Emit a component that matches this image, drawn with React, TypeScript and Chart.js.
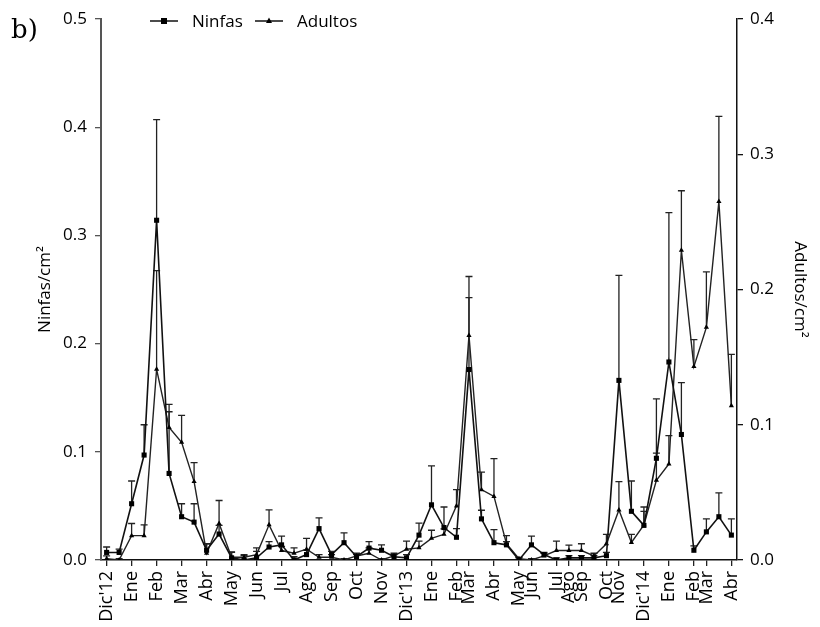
import React, { useEffect, useRef } from 'react';
import { Chart, registerables } from 'chart.js';
Chart.register(...registerables);

// Sampling index (fortnightly samples, Dec 2012 - Apr 2015)
const sampleIndex = Array.from({ length: 51 }, (_, i) => i);

const ninfas = [
  0.007, 0.007, 0.052, 0.097, 0.314, 0.080, 0.040, 0.035, 0.009, 0.024,
  0.002, 0.000, 0.002, 0.012, 0.014, 0.000, 0.005, 0.029, 0.005, 0.016,
  0.003, 0.011, 0.009, 0.003, 0.002, 0.023, 0.051, 0.030, 0.021, 0.176,
  0.038, 0.016, 0.014, 0.000, 0.014, 0.005, 0.000, 0.002, 0.002, 0.002,
  0.004, 0.166, 0.045, 0.032, 0.094, 0.183, 0.116, 0.009, 0.026, 0.040,
  0.023,
];
const ninfasErr = [
  0.005, 0.003, 0.021, 0.028, 0.093, 0.057, 0.012, 0.017, 0.006, 0.008,
  0.005, 0.004, 0.006, 0.005, 0.008, 0.003, 0.004, 0.010, 0.003, 0.009,
  0.002, 0.006, 0.005, 0.002, 0.003, 0.011, 0.036, 0.019, 0.008, 0.086,
  0.008, 0.012, 0.003, 0.002, 0.008, 0.002, 0.002, 0.002, 0.002, 0.002,
  0.003, 0.097, 0.028, 0.017, 0.055, 0.138, 0.048, 0.004, 0.012, 0.022,
  0.015,
];
const adultos = [
  0.001, 0.000, 0.018, 0.018, 0.141, 0.098, 0.087, 0.058, 0.005, 0.027,
  0.002, 0.002, 0.004, 0.026, 0.007, 0.005, 0.008, 0.002, 0.002, 0.000,
  0.003, 0.005, 0.000, 0.003, 0.008, 0.009, 0.016, 0.019, 0.040, 0.166,
  0.052, 0.047, 0.012, 0.001, 0.000, 0.003, 0.007, 0.007, 0.007, 0.003,
  0.012, 0.037, 0.013, 0.026, 0.059, 0.071, 0.229, 0.143, 0.172, 0.265,
  0.114,
];
const adultosErr = [
  0.002, 0.001, 0.009, 0.008, 0.073, 0.017, 0.020, 0.014, 0.007, 0.017,
  0.004, 0.002, 0.005, 0.011, 0.003, 0.004, 0.008, 0.002, 0.002, 0.001,
  0.002, 0.004, 0.001, 0.002, 0.006, 0.005, 0.006, 0.004, 0.012, 0.028,
  0.013, 0.028, 0.006, 0.001, 0.001, 0.002, 0.007, 0.004, 0.005, 0.002,
  0.007, 0.021, 0.006, 0.010, 0.020, 0.021, 0.044, 0.020, 0.041, 0.063,
  0.038,
];

const tickIndex = [0, 2, 4, 6, 8, 10, 12, 14, 16, 18, 20, 22, 24, 26, 28, 29, 31, 33, 34, 36, 37, 38, 40, 41, 43, 45, 47, 48, 50];
const tickLabels = [
  "Dic'12", 'Ene', 'Feb', 'Mar', 'Abr', 'May', 'Jun', 'Jul', 'Ago', 'Sep', 'Oct', 'Nov',
  "Dic'13", 'Ene', 'Feb', 'Mar', 'Abr', 'May', 'Jun', 'Jul', 'Ago', 'Sep', 'Oct', 'Nov',
  "Dic'14", 'Ene', 'Feb', 'Mar', 'Abr',
];

const seriesNames = ['Ninfas', 'Adultos'];
const leftTitle = 'Ninfas/cm²';
const rightTitle = 'Adultos/cm²';
const panelLabel = 'b)';

const FONT = "'Open Sans', sans-serif";

const errorBarPlugin = {
  id: 'errorBars',
  beforeDatasetsDraw(chart: any) {
    const ctx = chart.ctx;
    chart.data.datasets.forEach((ds: any, di: number) => {
      const meta = chart.getDatasetMeta(di);
      const yScale = chart.scales[ds.yAxisID];
      ctx.save();
      ctx.strokeStyle = '#222';
      ctx.lineWidth = 1.3;
      meta.data.forEach((pt: any, i: number) => {
        const e = ds.errors[i];
        if (!e) return;
        const yTop = yScale.getPixelForValue(ds.data[i].y + e);
        ctx.beginPath();
        ctx.moveTo(pt.x, pt.y);
        ctx.lineTo(pt.x, yTop);
        ctx.moveTo(pt.x - 3.5, yTop);
        ctx.lineTo(pt.x + 3.5, yTop);
        ctx.stroke();
      });
      ctx.restore();
    });
  },
};

const decorPlugin = {
  id: 'decor',
  afterDraw(chart: any) {
    const ctx = chart.ctx;
    ctx.save();
    // panel label
    ctx.fillStyle = '#000';
    ctx.font = "26px 'DejaVu Serif', serif";
    ctx.textBaseline = 'alphabetic';
    ctx.textAlign = 'left';
    ctx.fillText(panelLabel, 11, 38);
    // legend
    const y = 21;
    const items = [
      { x0: 150, name: seriesNames[0], style: 'rect' },
      { x0: 255, name: seriesNames[1], style: 'tri' },
    ];
    items.forEach((it) => {
      ctx.strokeStyle = '#111';
      ctx.lineWidth = 1.5;
      ctx.beginPath();
      ctx.moveTo(it.x0, y);
      ctx.lineTo(it.x0 + 28, y);
      ctx.stroke();
      ctx.fillStyle = '#000';
      const cx = it.x0 + 14;
      if (it.style === 'rect') {
        ctx.fillRect(cx - 3, y - 3, 6, 6);
      } else {
        ctx.beginPath();
        ctx.moveTo(cx, y - 3.5);
        ctx.lineTo(cx + 3, y + 2);
        ctx.lineTo(cx - 3, y + 2);
        ctx.closePath();
        ctx.fill();
      }
      ctx.font = `17px ${FONT}`;
      ctx.textBaseline = 'middle';
      ctx.fillText(it.name, it.x0 + 42, y + 1);
    });
    ctx.restore();
  },
};

export default function App() {
  const ref = useRef<HTMLCanvasElement | null>(null);
  useEffect(() => {
    if (!ref.current) return;
    const chart = new Chart(ref.current, {
      type: 'line',
      data: {
        datasets: [
          {
            label: seriesNames[0],
            data: sampleIndex.map((i) => ({ x: i, y: ninfas[i] })),
            errors: ninfasErr,
            yAxisID: 'y',
            borderColor: '#111',
            backgroundColor: '#000',
            borderWidth: 1.6,
            pointStyle: 'rect',
            pointRadius: 3.6,
            pointBorderWidth: 0,
            tension: 0,
          } as any,
          {
            label: seriesNames[1],
            data: sampleIndex.map((i) => ({ x: i, y: adultos[i] })),
            errors: adultosErr,
            yAxisID: 'y1',
            borderColor: '#222',
            backgroundColor: '#000',
            borderWidth: 1.4,
            pointStyle: 'triangle',
            pointRadius: 3,
            pointBorderWidth: 0,
            tension: 0,
          } as any,
        ],
      },
      options: {
        animation: false,
        responsive: false,
        layout: { padding: { top: 19, left: 0, right: 0, bottom: 0 } },
        plugins: { legend: { display: false }, tooltip: { enabled: false } },
        scales: {
          x: {
            type: 'linear',
            min: -0.45,
            max: 50.45,
            afterBuildTicks: (scale: any) => {
              scale.ticks = tickIndex.map((v) => ({ value: v }));
            },
            afterFit: (scale: any) => {
              scale.height = 67;
            },
            ticks: {
              autoSkip: false,
              minRotation: 90,
              maxRotation: 90,
              padding: 5,
              color: '#000',
              font: { family: FONT, size: 18 },
              callback: (v: any) => {
                const k = tickIndex.indexOf(Number(v));
                return k >= 0 ? tickLabels[k] : '';
              },
            },
            grid: { drawOnChartArea: false, drawTicks: true, tickLength: 6, color: '#222', lineWidth: 1.3 },
            border: { display: true, color: '#111', width: 1.5 },
          },
          y: {
            position: 'left',
            min: 0,
            max: 0.5,
            afterFit: (scale: any) => {
              scale.width = 101;
            },
            ticks: {
              stepSize: 0.1,
              padding: 8,
              color: '#000',
              font: { family: FONT, size: 17 },
              callback: (v: any) => Number(v).toFixed(1),
            },
            title: {
              display: true,
              text: leftTitle,
              color: '#000',
              font: { family: FONT, size: 17 },
              padding: { top: 35, bottom: 0 },
            },
            grid: { drawOnChartArea: false, drawTicks: true, tickLength: 6, color: '#555', lineWidth: 1.3 },
            border: { display: true, color: '#555', width: 2 },
          },
          y1: {
            position: 'right',
            min: 0,
            max: 0.4,
            afterFit: (scale: any) => {
              scale.width = 83;
            },
            ticks: {
              stepSize: 0.1,
              padding: 7,
              color: '#000',
              font: { family: FONT, size: 17 },
              callback: (v: any) => Number(v).toFixed(1),
            },
            title: {
              display: true,
              text: rightTitle,
              color: '#000',
              font: { family: FONT, size: 17 },
              padding: { top: 10, bottom: 0 },
            },
            grid: { drawOnChartArea: false, drawTicks: true, tickLength: 6, color: '#111', lineWidth: 1.3 },
            border: { display: true, color: '#111', width: 1.5 },
          },
        },
      } as any,
      plugins: [errorBarPlugin, decorPlugin],
    });
    return () => chart.destroy();
  }, []);

  return (
    <div style={{ position: 'fixed', left: 0, top: 0, width: 820, height: 627, background: '#fff' }}>
      <canvas ref={ref} width={820} height={627} style={{ width: 820, height: 627, display: 'block' }} />
    </div>
  );
}
